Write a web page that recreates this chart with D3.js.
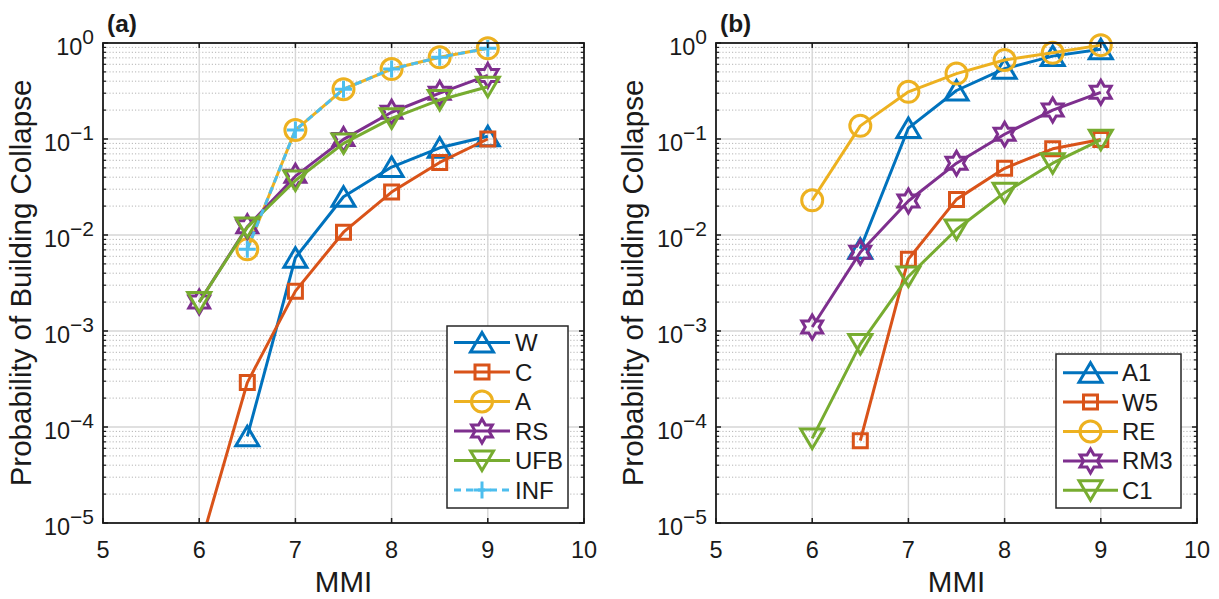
<!DOCTYPE html>
<html><head><meta charset="utf-8">
<script src="https://cdn.jsdelivr.net/npm/d3@7"></script>
<style>
body{margin:0;background:#fff}
svg{display:block}
text{font-family:"Liberation Sans",Arial,Helvetica,sans-serif;fill:#1a1a1a}
</style>
</head><body>
<svg id="chart" width="1219" height="599"></svg>
<script>
// ---------- data ----------
const mmi = [6, 6.5, 7, 7.5, 8, 8.5, 9];
const xTicks = [5, 6, 7, 8, 9, 10];
const yTickExps = [0, -1, -2, -3, -4, -5];
const xLabel = "MMI";
const yLabel = "Probability of Building Collapse";

// panel (a)
const namesA = ["W", "C", "A", "RS", "UFB", "INF"];
const valW   = [null, 8.0e-5, 5.8e-3, 0.025, 0.051, 0.081, 0.107];
const valC   = [5.3e-6, 2.9e-4, 2.6e-3, 0.0107, 0.028, 0.057, 0.100];
const valA   = [null, 7.1e-3, 0.124, 0.33, 0.535, 0.71, 0.88];
const valRS  = [2.0e-3, 0.0122, 0.041, 0.099, 0.19, 0.30, 0.46];
const valUFB = [2.0e-3, 0.0120, 0.037, 0.090, 0.164, 0.255, 0.35];
const valINF = [null, 7.1e-3, 0.124, 0.33, 0.535, 0.71, 0.88];

// panel (b)
const namesB = ["A1", "W5", "RE", "RM3", "C1"];
const valA1  = [null, 7.2e-3, 0.13, 0.32, 0.54, 0.73, 0.86];
const valW5  = [null, 7.2e-5, 5.6e-3, 0.0235, 0.0495, 0.079, 0.099];
const valRE  = [0.023, 0.137, 0.31, 0.48, 0.665, 0.79, 0.95];
const valRM3 = [1.1e-3, 6.6e-3, 0.0226, 0.056, 0.112, 0.20, 0.306];
const valC1  = [7.6e-5, 7.3e-4, 3.7e-3, 0.0114, 0.0276, 0.056, 0.098];

// ---------- styles ----------
const COL = ["#0072BD", "#D95319", "#EDB120", "#7E2F8E", "#77AC30", "#4DBEEE"];
const seriesA = [
  {name: namesA[0], v: valW,   c: COL[0], m: "tup"},
  {name: namesA[1], v: valC,   c: COL[1], m: "sq"},
  {name: namesA[2], v: valA,   c: COL[2], m: "circ"},
  {name: namesA[3], v: valRS,  c: COL[3], m: "hex"},
  {name: namesA[4], v: valUFB, c: COL[4], m: "tdn"},
  {name: namesA[5], v: valINF, c: COL[5], m: "plus", dash: "7,5"}
];
const seriesB = [
  {name: namesB[0], v: valA1,  c: COL[0], m: "tup"},
  {name: namesB[1], v: valW5,  c: COL[1], m: "sq"},
  {name: namesB[2], v: valRE,  c: COL[2], m: "circ"},
  {name: namesB[3], v: valRM3, c: COL[3], m: "hex"},
  {name: namesB[4], v: valC1,  c: COL[4], m: "tdn"}
];

function markerPath(type) {
  if (type === "tup") return "M0,-10L11.5,9.5L-11.5,9.5Z";
  if (type === "tdn") return "M0,10L11.5,-9.5L-11.5,-9.5Z";
  if (type === "sq") return "M-7,-7H7V7H-7Z";
  if (type === "circ") return "M10.5,0A10.5,10.5 0 1,1 -10.5,0A10.5,10.5 0 1,1 10.5,0Z";
  if (type === "plus") return "M-8.5,0H8.5M0,-8.5V8.5";
  if (type === "hex") {
    const R = 12, r = R / Math.sqrt(3);
    let pts = [];
    for (let i = 0; i < 12; i++) {
      const ang = -Math.PI / 2 + i * Math.PI / 6;
      const rad = i % 2 === 0 ? R : r;
      pts.push([rad * Math.cos(ang), rad * Math.sin(ang)]);
    }
    return "M" + pts.map(p => p[0].toFixed(2) + "," + p[1].toFixed(2)).join("L") + "Z";
  }
}

const svg = d3.select("#chart");
const plotTop = 43, plotBottom = 523;

function panel(opts) {
  const {left, right, series, tag, legend, ylabX, id} = opts;
  const x = d3.scaleLinear().domain([5, 10]).range([left, right]);
  const y = d3.scaleLog().domain([1e-5, 1]).range([plotBottom, plotTop]);
  const g = svg.append("g");

  g.append("clipPath").attr("id", "clip" + id)
    .append("rect").attr("x", left).attr("y", plotTop)
    .attr("width", right - left).attr("height", plotBottom - plotTop);

  // minor grid (horizontal, dotted)
  const minors = [];
  for (let e = -5; e < 0; e++) for (let k = 2; k <= 9; k++) minors.push(k * Math.pow(10, e));
  g.append("g").selectAll("line").data(minors).join("line")
    .attr("x1", left).attr("x2", right)
    .attr("y1", d => y(d)).attr("y2", d => y(d))
    .attr("stroke", "#b5b5b5").attr("stroke-width", 1)
    .attr("stroke-dasharray", "1.2,2");

  // major grid
  g.append("g").selectAll("line").data(yTickExps.slice(1, -1)).join("line")
    .attr("x1", left).attr("x2", right)
    .attr("y1", d => y(Math.pow(10, d))).attr("y2", d => y(Math.pow(10, d)))
    .attr("stroke", "#d6d6d6").attr("stroke-width", 1.4);
  g.append("g").selectAll("line").data(xTicks.slice(1, -1)).join("line")
    .attr("x1", d => x(d)).attr("x2", d => x(d))
    .attr("y1", plotTop).attr("y2", plotBottom)
    .attr("stroke", "#d6d6d6").attr("stroke-width", 1.4);

  // series
  const line = d3.line().defined(d => d[1] != null && d[1] > 0)
    .x(d => x(d[0])).y(d => y(d[1]));
  series.forEach(s => {
    const pts = mmi.map((m, i) => [m, s.v[i]]);
    const sg = g.append("g");
    sg.append("path").attr("d", line(pts))
      .attr("clip-path", "url(#clip" + id + ")")
      .attr("fill", "none").attr("stroke", s.c).attr("stroke-width", 3)
      .attr("stroke-linejoin", "round")
      .attr("stroke-dasharray", s.dash || null);
    sg.selectAll("path.mk").data(pts.filter(d => d[1] != null && d[1] >= 1e-5 && d[1] <= 1))
      .join("path").attr("class", "mk")
      .attr("transform", d => `translate(${x(d[0])},${y(d[1])})`)
      .attr("d", markerPath(s.m))
      .attr("fill", "none").attr("stroke", s.c).attr("stroke-width", 3)
      .attr("stroke-linejoin", "miter");
  });

  // axes frame
  const ax = g.append("g").attr("stroke", "#1a1a1a");
  ax.append("rect").attr("x", left).attr("y", plotTop)
    .attr("width", right - left).attr("height", plotBottom - plotTop)
    .attr("fill", "none").attr("stroke-width", 1.8);
  xTicks.forEach(t => {
    ax.append("line").attr("x1", x(t)).attr("x2", x(t)).attr("y1", plotBottom).attr("y2", plotBottom - 5).attr("stroke-width", 1.5);
    ax.append("line").attr("x1", x(t)).attr("x2", x(t)).attr("y1", plotTop).attr("y2", plotTop + 5).attr("stroke-width", 1.5);
  });
  yTickExps.forEach(e => {
    const yy = y(Math.pow(10, e));
    ax.append("line").attr("x1", left).attr("x2", left + 5).attr("y1", yy).attr("y2", yy).attr("stroke-width", 1.5);
    ax.append("line").attr("x1", right).attr("x2", right - 5).attr("y1", yy).attr("y2", yy).attr("stroke-width", 1.5);
  });
  minors.forEach(d => {
    const yy = y(d);
    ax.append("line").attr("x1", left).attr("x2", left + 3).attr("y1", yy).attr("y2", yy).attr("stroke-width", 1.2);
    ax.append("line").attr("x1", right).attr("x2", right - 3).attr("y1", yy).attr("y2", yy).attr("stroke-width", 1.2);
  });

  // x tick labels
  g.append("g").selectAll("text").data(xTicks).join("text")
    .attr("x", d => x(d)).attr("y", plotBottom + 35)
    .attr("text-anchor", "middle").attr("font-size", 23.5)
    .text(d => d);
  // y tick labels
  yTickExps.forEach(e => {
    const t = g.append("text").attr("x", left - 9).attr("y", y(Math.pow(10, e)) + 11.5)
      .attr("text-anchor", "end").attr("font-size", 23.5);
    t.append("tspan").text("10");
    t.append("tspan").attr("dy", -10.5).attr("font-size", 21).text(e === 0 ? "0" : "\u2212" + (-e));
  });

  // axis labels
  g.append("text").attr("x", (left + right) / 2).attr("y", 592)
    .attr("text-anchor", "middle").attr("font-size", 29.5).text(xLabel);
  g.append("text").attr("transform", `translate(${ylabX},${(plotTop + plotBottom) / 2}) rotate(-90)`)
    .attr("text-anchor", "middle").attr("font-size", 29.5).text(yLabel);
  g.append("text").attr("x", left + 4).attr("y", 32)
    .attr("font-size", 24.5).attr("font-weight", "bold").text(tag);

  // legend
  const L = legend;
  const lg = g.append("g");
  lg.append("rect").attr("x", L.x0).attr("y", L.y0).attr("width", L.x1 - L.x0).attr("height", L.y1 - L.y0)
    .attr("fill", "#fff").attr("stroke", "#262626").attr("stroke-width", 1.5);
  series.forEach((s, i) => {
    const yy = L.first + i * L.step;
    lg.append("line").attr("x1", L.lx0).attr("x2", L.lx1).attr("y1", yy).attr("y2", yy)
      .attr("stroke", s.c).attr("stroke-width", 3).attr("stroke-dasharray", s.dash || null);
    lg.append("path").attr("transform", `translate(${(L.lx0 + L.lx1) / 2},${yy})`)
      .attr("d", markerPath(s.m)).attr("fill", "none").attr("stroke", s.c).attr("stroke-width", 3);
    lg.append("text").attr("x", L.tx).attr("y", yy + 8.5).attr("font-size", 24).text(s.name);
  });
}

panel({id: "a", left: 103, right: 584, series: seriesA, tag: "(a)", ylabX: 31,
  legend: {x0: 447, x1: 568, y0: 326, y1: 508, first: 342.5, step: 29.5, lx0: 454, lx1: 510, tx: 515}});
panel({id: "b", left: 716, right: 1197, series: seriesB, tag: "(b)", ylabX: 643,
  legend: {x0: 1056, x1: 1181, y0: 354, y1: 508, first: 372.7, step: 29.4, lx0: 1063, lx1: 1118, tx: 1122}});
</script>
</body></html>
